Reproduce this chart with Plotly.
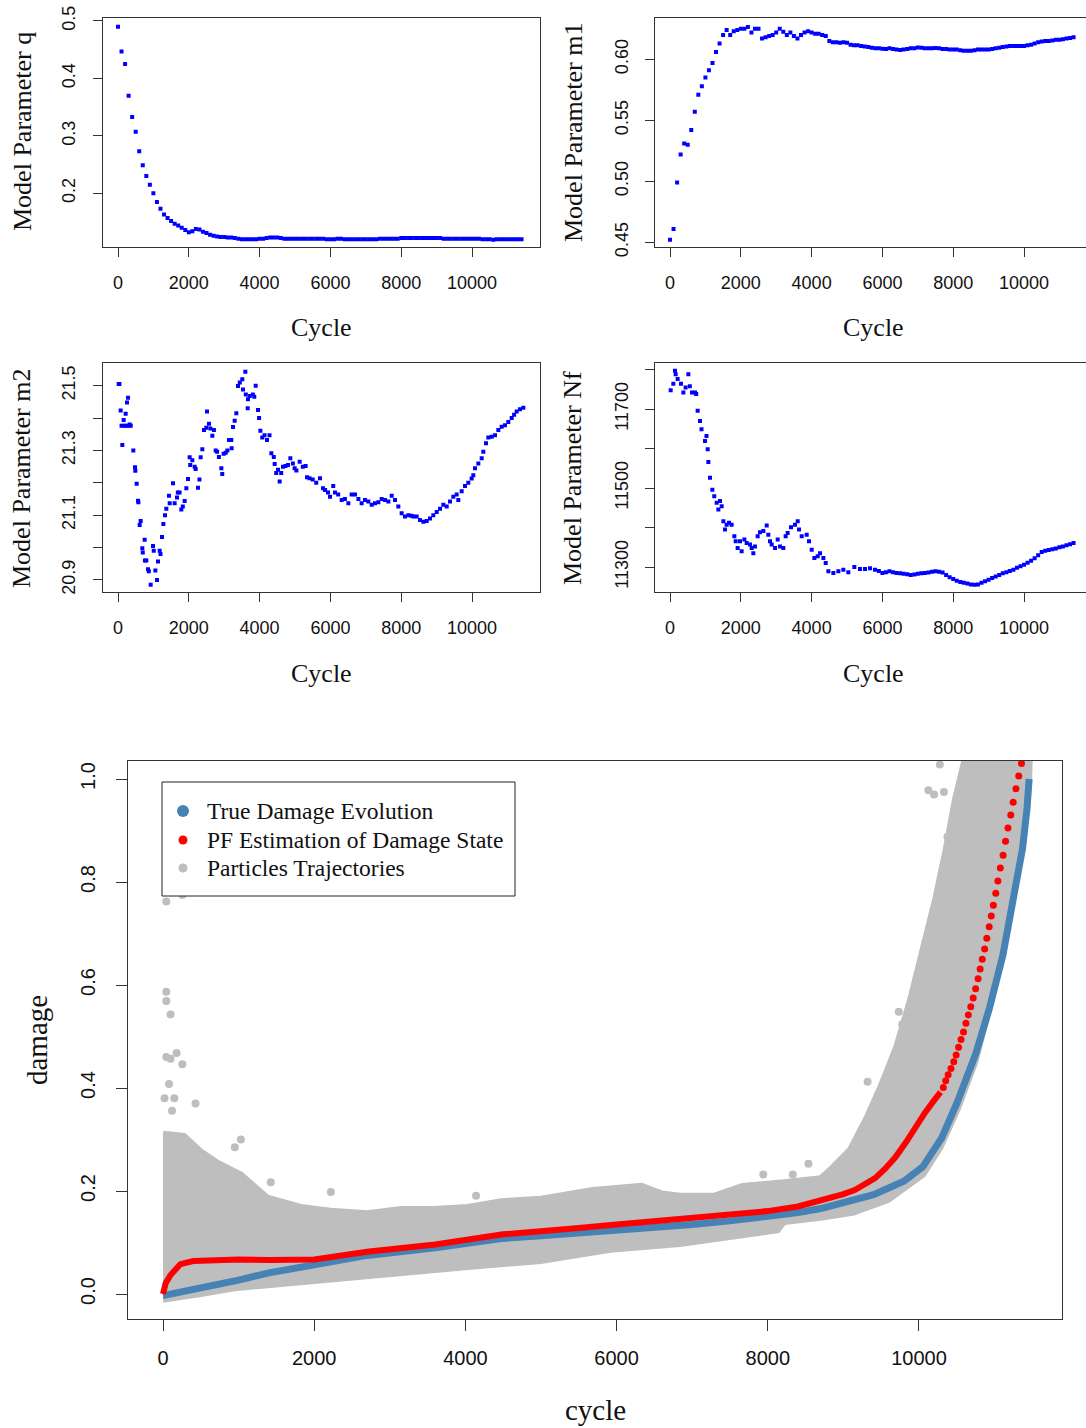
import plotly.graph_objects as go

# ---------------- data ----------------
grid_cycle = [0, 100, 200, 300, 400, 500, 600, 700, 800, 900, 1000, 1100, 1200, 1300, 1400, 1500,
              1600, 1700, 1800, 1900, 2000, 2100, 2200, 2300, 2400, 2500, 2600, 2700, 2800, 2900,
              3000, 3100, 3200, 3300, 3400, 3500, 3600, 3700, 3800, 3900, 4000, 4100, 4200, 4300,
              4400, 4500, 4600, 4700, 4800, 4900, 5000, 5100, 5200, 5300, 5400, 5500, 5600, 5700,
              5800, 5900, 6000, 6100, 6200, 6300, 6400, 6500, 6600, 6700, 6800, 6900, 7000, 7100,
              7200, 7300, 7400, 7500, 7600, 7700, 7800, 7900, 8000, 8100, 8200, 8300, 8400, 8500,
              8600, 8700, 8800, 8900, 9000, 9100, 9200, 9300, 9400, 9500, 9600, 9700, 9800, 9900,
              10000, 10100, 10200, 10300, 10400, 10500, 10600, 10700, 10800, 10900, 11000, 11100,
              11200, 11300, 11400]

q_values = [0.490, 0.447, 0.425, 0.370, 0.333, 0.307, 0.273, 0.249, 0.230, 0.215, 0.200, 0.185,
            0.173, 0.163, 0.157, 0.152, 0.147, 0.144, 0.140, 0.136, 0.132, 0.134, 0.138, 0.137,
            0.133, 0.131, 0.128, 0.126, 0.125, 0.124, 0.124, 0.123, 0.123, 0.122, 0.121, 0.120,
            0.120, 0.120, 0.120, 0.120, 0.121, 0.121, 0.122, 0.123, 0.123, 0.123, 0.122, 0.121,
            0.121, 0.121, 0.121, 0.121, 0.121, 0.121, 0.121, 0.121, 0.121, 0.121, 0.121, 0.120,
            0.120, 0.120, 0.121, 0.121, 0.120, 0.120, 0.120, 0.120, 0.120, 0.120, 0.120, 0.120,
            0.120, 0.120, 0.121, 0.121, 0.121, 0.121, 0.121, 0.121, 0.122, 0.122, 0.122, 0.122,
            0.122, 0.122, 0.122, 0.122, 0.122, 0.122, 0.122, 0.122, 0.121, 0.121, 0.121, 0.121,
            0.121, 0.121, 0.121, 0.121, 0.121, 0.121, 0.121, 0.120, 0.120, 0.120, 0.119, 0.120,
            0.120, 0.120, 0.120, 0.120, 0.120, 0.120, 0.120]

m1_values = [0.452, 0.461, 0.499, 0.522, 0.531, 0.530, 0.542, 0.557, 0.571, 0.578, 0.585, 0.591,
             0.597, 0.606, 0.613, 0.620, 0.624, 0.620, 0.623, 0.624, 0.625, 0.625, 0.6265, 0.622,
             0.625, 0.625, 0.617, 0.618, 0.619, 0.620, 0.622, 0.625, 0.6225, 0.620, 0.622, 0.619,
             0.617, 0.620, 0.622, 0.623, 0.622, 0.621, 0.621, 0.620, 0.619, 0.615, 0.614, 0.614,
             0.6135, 0.614, 0.6135, 0.612, 0.6115, 0.6115, 0.611, 0.6105, 0.610, 0.6095, 0.609,
             0.609, 0.6087, 0.6085, 0.609, 0.6085, 0.608, 0.6077, 0.608, 0.6085, 0.609, 0.609,
             0.6096, 0.6095, 0.609, 0.609, 0.609, 0.6092, 0.609, 0.6085, 0.6085, 0.608, 0.608,
             0.608, 0.6075, 0.607, 0.607, 0.607, 0.6075, 0.608, 0.608, 0.608, 0.608, 0.6085,
             0.609, 0.6095, 0.610, 0.6105, 0.611, 0.611, 0.611, 0.611, 0.611, 0.6115, 0.612,
             0.613, 0.614, 0.6145, 0.615, 0.615, 0.6155, 0.616, 0.616, 0.6165, 0.617, 0.6175,
             0.618]

m2_cycle = [19, 40, 75, 100, 122, 160, 170, 216, 230, 254, 282, 300, 330, 360, 433, 480, 490, 527,
            565, 575, 612, 640, 687, 700, 753, 760, 800, 847, 870, 923, 989, 1010, 1055, 1102,
            1130, 1177, 1200, 1243, 1281, 1328, 1365, 1440, 1460, 1554, 1600, 1667, 1690, 1740,
            1789, 1830, 1883, 1930, 1977, 2024, 2040, 2100, 2166, 2194, 2260, 2300, 2335, 2382,
            2429, 2495, 2514, 2570, 2610, 2665, 2710, 2759, 2800, 2850, 2919, 2945, 2985, 3042,
            3090, 3136, 3200, 3210, 3249, 3296, 3343, 3390, 3440, 3511, 3530, 3597, 3610, 3663,
            3672, 3720, 3810, 3850, 3889, 3955, 3985, 4021, 4075, 4140, 4209, 4280, 4332, 4400,
            4426, 4470, 4520, 4567, 4610, 4660, 4730, 4802, 4868, 4940, 4990, 5040, 5132, 5220,
            5300, 5339, 5410, 5500, 5600, 5706, 5791, 5850, 5932, 5989, 6080, 6130, 6220, 6319,
            6410, 6507, 6601, 6695, 6790, 6883, 6977, 7071, 7166, 7260, 7354, 7448, 7542, 7637,
            7731, 7825, 7919, 8013, 8107, 8202, 8290, 8343, 8437, 8531, 8625, 8720, 8814, 8908,
            9003, 9097, 9190, 9285, 9379, 9472, 9567, 9614, 9709, 9803, 9896, 9990, 10037,
            10085, 10179, 10274, 10320, 10395, 10461, 10556, 10650, 10744, 10838, 10932, 11026,
            11121, 11190, 11262, 11356, 11450]
m2_values = [21.505, 21.505, 21.423, 21.376, 21.317, 21.394, 21.376, 21.413, 21.376, 21.448,
             21.463, 21.376, 21.380, 21.376, 21.300, 21.248, 21.237, 21.197, 21.145, 21.140,
             21.070, 21.082, 20.998, 20.985, 21.024, 20.960, 20.960, 20.933, 20.927, 20.885,
             21.005, 20.990, 20.929, 20.900, 20.957, 20.990, 20.980, 21.033, 21.073, 21.100,
             21.120, 21.160, 21.137, 21.199, 21.137, 21.155, 21.170, 21.170, 21.118, 21.127,
             21.144, 21.183, 21.212, 21.279, 21.255, 21.270, 21.250, 21.243, 21.185, 21.210,
             21.279, 21.304, 21.363, 21.370, 21.420, 21.382, 21.368, 21.345, 21.363, 21.300,
             21.296, 21.280, 21.245, 21.227, 21.290, 21.293, 21.300, 21.332, 21.332, 21.307,
             21.372, 21.392, 21.415, 21.499, 21.510, 21.520, 21.488, 21.543, 21.473, 21.430,
             21.458, 21.468, 21.473, 21.466, 21.500, 21.425, 21.400, 21.361, 21.340, 21.347,
             21.332, 21.347, 21.291, 21.280, 21.258, 21.230, 21.240, 21.204, 21.230, 21.250,
             21.252, 21.255, 21.276, 21.260, 21.245, 21.238, 21.265, 21.250, 21.252, 21.217,
             21.214, 21.210, 21.200, 21.214, 21.183, 21.178, 21.170, 21.157, 21.190, 21.170,
             21.164, 21.147, 21.150, 21.137, 21.164, 21.164, 21.150, 21.137, 21.147, 21.142,
             21.132, 21.137, 21.140, 21.150, 21.147, 21.142, 21.160, 21.147, 21.127, 21.106,
             21.096, 21.100, 21.098, 21.096, 21.096, 21.085, 21.080, 21.082, 21.090, 21.100,
             21.110, 21.120, 21.132, 21.127, 21.142, 21.157, 21.164, 21.147, 21.174, 21.190,
             21.200, 21.213, 21.223, 21.245, 21.260, 21.276, 21.296, 21.322, 21.340, 21.342,
             21.347, 21.363, 21.373, 21.378, 21.388, 21.400, 21.410, 21.420, 21.427, 21.432]

nf_cycle = [19, 94, 141, 160, 216, 310, 377, 440, 518, 560, 620, 706, 740, 781, 847, 890, 989,
            1030, 1064, 1083, 1130, 1196, 1250, 1318, 1365, 1412, 1460, 1507, 1554, 1600, 1667,
            1740, 1817, 1855, 1911, 1977, 2024, 2100, 2166, 2260, 2307, 2354, 2400, 2476, 2542,
            2637, 2731, 2778, 2825, 2872, 2966, 3042, 3108, 3201, 3267, 3324, 3418, 3530, 3607,
            3645, 3720, 3861, 3927, 4003, 4078, 4172, 4238, 4332, 4398, 4473, 4614, 4755, 4896,
            5037, 5207, 5367, 5508, 5650, 5791, 5900, 6000, 6100, 6200, 6300, 6400, 6500, 6600,
            6700, 6800, 6900, 7000, 7100, 7200, 7300, 7400, 7500, 7600, 7700, 7800, 7900, 8000,
            8100, 8200, 8300, 8400, 8500, 8600, 8700, 8800, 8900, 9000, 9100, 9200, 9300, 9400,
            9500, 9600, 9700, 9800, 9900, 10000, 10100, 10200, 10300, 10400, 10500, 10600, 10700,
            10800, 10900, 11000, 11100, 11200, 11300, 11400]
nf_values = [11748, 11764, 11797, 11788, 11776, 11764, 11742, 11755, 11788, 11758, 11742, 11742,
             11738, 11696, 11670, 11649, 11619, 11632, 11598, 11566, 11526, 11496, 11479, 11463,
             11446, 11467, 11454, 11416, 11395, 11407, 11412, 11407, 11378, 11365, 11348, 11365,
             11340, 11370, 11361, 11357, 11348, 11335, 11352, 11378, 11388, 11391, 11405, 11382,
             11365, 11357, 11348, 11370, 11352, 11348, 11378, 11386, 11401, 11407, 11416, 11395,
             11378, 11382, 11365, 11344, 11323, 11327, 11335, 11323, 11310, 11289, 11285, 11289,
             11293, 11287, 11300, 11295, 11295, 11297, 11293, 11290, 11285, 11287, 11289, 11287,
             11285, 11284, 11283, 11282, 11280, 11281, 11283, 11284, 11285, 11286, 11288, 11289,
             11288, 11286, 11280, 11274, 11270, 11265, 11262, 11260, 11258, 11256, 11255, 11256,
             11260, 11264, 11268, 11272, 11276, 11280, 11284, 11287, 11290, 11293, 11298, 11302,
             11306, 11311, 11316, 11322, 11330, 11338, 11341, 11343, 11345, 11347, 11350, 11352,
             11355, 11358, 11361]

# bottom panel
true_cycle = [0, 250, 500, 750, 1000, 1400, 2000, 2700, 3600, 4000, 4500, 5000, 5500, 6000, 6500,
              7000, 7500, 8000, 8400, 8700, 9000, 9400, 9800, 10050, 10300, 10500, 10750, 10930,
              11110, 11250, 11370, 11430, 11457]
true_damage = [-0.003, 0.004, 0.011, 0.019, 0.027, 0.041, 0.056, 0.075, 0.090, 0.097, 0.108,
               0.113, 0.118, 0.124, 0.130, 0.135, 0.142, 0.150, 0.158, 0.166, 0.178, 0.193,
               0.219, 0.247, 0.303, 0.370, 0.466, 0.554, 0.658, 0.764, 0.865, 0.944, 1.000]

pf_cycle = [0, 35, 100, 230, 400, 700, 1000, 1400, 2000, 2700, 3600, 4500, 5000, 5500, 6000,
            6500, 7000, 7500, 8000, 8400, 8700, 9000, 9150, 9300, 9420, 9550, 9690, 9830, 9960,
            10080, 10190, 10285]
pf_damage = [0.000, 0.021, 0.037, 0.058, 0.064, 0.066, 0.067, 0.066, 0.067, 0.082, 0.096,
             0.116, 0.121, 0.128, 0.135, 0.141, 0.148, 0.154, 0.161, 0.170, 0.181, 0.194,
             0.202, 0.213, 0.225, 0.243, 0.266, 0.295, 0.326, 0.352, 0.374, 0.392]
pf_dot_cycle = [10322, 10354, 10386, 10423, 10460, 10492, 10524, 10556, 10589, 10621, 10653,
                10685, 10717, 10749, 10782, 10809, 10837, 10869, 10897, 10929, 10956, 10984,
                11016, 11044, 11076, 11113, 11145, 11177, 11214, 11246, 11283, 11320, 11356]
pf_dot_damage = [0.401, 0.414, 0.426, 0.438, 0.451, 0.464, 0.479, 0.494, 0.509, 0.526, 0.542,
                 0.558, 0.575, 0.593, 0.612, 0.631, 0.650, 0.670, 0.691, 0.713, 0.734, 0.755,
                 0.778, 0.802, 0.827, 0.852, 0.879, 0.905, 0.930, 0.955, 0.981, 1.006, 1.030]

cloud_upper_cycle = [0, 278, 500, 720, 1030, 1382, 1823, 2265, 2706, 3148, 3589, 4031, 4473, 5000,
                     5687, 6331, 6600, 6837, 7297, 7664, 8216, 8700, 8850, 9087, 9300, 9484, 9700,
                     9881, 10050, 10212, 10350, 10476, 10608, 11470]
cloud_upper_damage = [0.311, 0.307, 0.277, 0.255, 0.232, 0.187, 0.169, 0.161, 0.157, 0.165, 0.165,
                      0.169, 0.180, 0.185, 0.202, 0.210, 0.195, 0.191, 0.191, 0.210, 0.217, 0.225,
                      0.245, 0.280, 0.340, 0.400, 0.480, 0.570, 0.670, 0.765, 0.860, 0.960, 1.040,
                      1.060]
cloud_lower_cycle = [11470, 11457, 11412, 11343, 11159, 10975, 10745, 10515, 10285, 10055, 9595,
                     9136, 8700, 8216, 8130, 7572, 6837, 5917, 4998, 4000, 3148, 2000, 940, 500, 0]
cloud_lower_damage = [1.060, 1.000, 0.950, 0.870, 0.720, 0.580, 0.450, 0.360, 0.285, 0.232, 0.183,
                      0.158, 0.148, 0.140, 0.124, 0.112, 0.097, 0.086, 0.064, 0.052, 0.041, 0.026,
                      0.011, 0.000, -0.011]
outlier_cycle = [44, 256, 44, 44, 100, 44, 100, 180, 256, 80, 20, 150, 120, 430, 1030, 950, 1426,
                 2220, 4141, 10276, 10125, 10607, 10308, 10377, 10239, 10147, 9733, 9779, 9756,
                 9320, 9458, 8538, 8331, 7940, 11310, 10200, 10330]
outlier_damage = [0.762, 0.775, 0.587, 0.569, 0.543, 0.460, 0.457, 0.468, 0.446, 0.408, 0.380,
                  0.380, 0.356, 0.370, 0.300, 0.285, 0.217, 0.198, 0.191, 1.028, 0.978, 0.990,
                  0.820, 0.888, 0.727, 0.674, 0.548, 0.524, 0.483, 0.412, 0.386, 0.253, 0.232,
                  0.232, 1.020, 0.970, 0.975]

x_ticks = [0, 2000, 4000, 6000, 8000, 10000]
legend_names = ["True Damage Evolution", "PF Estimation of Damage State", "Particles Trajectories"]

# ---------------- figure ----------------
W, H = 1086, 1428
BLUE = "#0000FF"
STEEL = "#4682B4"
RED = "#FF0000"
GRAY = "#BEBEBE"
AXC = "#333333"
SERIF = "Liberation Serif, Times New Roman, serif"
SANS = "Liberation Sans, Arial, sans-serif"


def xd(a, b):
    return [a / W, min(b / W, 1.0)]


def yd(top, bottom):
    return [1 - bottom / H, 1 - top / H]


fig = go.Figure()

# top panels
panels = [
    (grid_cycle, q_values, "x", "y"),
    (grid_cycle, m1_values, "x2", "y2"),
    (m2_cycle, m2_values, "x3", "y3"),
    (nf_cycle, nf_values, "x4", "y4"),
]
for cx, cy, xa, ya in panels:
    fig.add_trace(go.Scatter(x=cx, y=cy, mode="markers", xaxis=xa, yaxis=ya, showlegend=False,
                             marker=dict(symbol="square", size=4, color=BLUE, line=dict(width=0))))

# bottom panel: particle cloud
fig.add_trace(go.Scatter(x=cloud_upper_cycle + cloud_lower_cycle,
                         y=cloud_upper_damage + cloud_lower_damage,
                         mode="lines", fill="toself", fillcolor=GRAY,
                         line=dict(color=GRAY, width=6), xaxis="x5", yaxis="y5",
                         name=legend_names[2], showlegend=False, hoverinfo="skip"))
fig.add_trace(go.Scatter(x=outlier_cycle, y=outlier_damage, mode="markers", xaxis="x5", yaxis="y5",
                         marker=dict(size=8, color=GRAY), showlegend=False))
fig.add_trace(go.Scatter(x=true_cycle, y=true_damage, mode="lines", xaxis="x5", yaxis="y5",
                         name=legend_names[0], line=dict(color=STEEL, width=7), showlegend=False))
fig.add_trace(go.Scatter(x=pf_cycle, y=pf_damage, mode="lines", xaxis="x5", yaxis="y5",
                         name=legend_names[1], line=dict(color=RED, width=6), showlegend=False))
fig.add_trace(go.Scatter(x=pf_dot_cycle, y=pf_dot_damage, mode="markers", xaxis="x5", yaxis="y5",
                         marker=dict(size=7, color=RED), showlegend=False))

tickfont_small = dict(family=SANS, size=18, color="#111")
tickfont_big = dict(family=SANS, size=20, color="#111")


def xaxis(domain, rng, anchor, font, tl, standoff):
    return dict(domain=domain, range=rng, anchor=anchor, tickvals=x_ticks,
                ticktext=[str(v) for v in x_ticks], ticks="outside", ticklen=tl, tickwidth=1,
                tickcolor=AXC, showline=True, linecolor=AXC, linewidth=1, mirror=True,
                showgrid=False, zeroline=False, tickfont=font, ticklabelstandoff=standoff,
                automargin=False)


def yaxis(domain, rng, anchor, vals, texts, font, tl, standoff):
    return dict(domain=domain, range=rng, anchor=anchor, tickvals=vals, ticktext=texts,
                ticks="outside", ticklen=tl, tickwidth=1, tickcolor=AXC, showline=True,
                linecolor=AXC, linewidth=1, mirror=True, showgrid=False, zeroline=False,
                tickfont=font, tickangle=-90, ticklabelstandoff=standoff, automargin=False)


L_X = xd(102.5, 540)
R_X = xd(655, 1086)
T_Y = yd(17.7, 247.3)
M_Y = yd(363.3, 592.3)

fig.update_layout(
    width=W, height=H, margin=dict(l=0, r=0, t=0, b=0),
    paper_bgcolor="white", plot_bgcolor="white", showlegend=False,
    xaxis=xaxis(L_X, [-438, 11921], "y", tickfont_small, 9, 10),
    yaxis=yaxis(T_Y, [0.106, 0.5057], "x", [0.2, 0.3, 0.4, 0.5], ["0.2", "0.3", "0.4", "0.5"],
                tickfont_small, 9, 10),
    xaxis2=xaxis(R_X, [-424, 11751], "y2", tickfont_small, 9, 10),
    yaxis2=yaxis(T_Y, [0.4459, 0.6341], "x2", [0.45, 0.50, 0.55, 0.60],
                 ["0.45", "0.50", "0.55", "0.60"], tickfont_small, 9, 10),
    xaxis3=xaxis(L_X, [-438, 11921], "y3", tickfont_small, 9, 10),
    yaxis3=yaxis(M_Y, [20.862, 21.569], "x3", [20.9, 21.0, 21.1, 21.2, 21.3, 21.4, 21.5],
                 ["20.9", "", "21.1", "", "21.3", "", "21.5"], tickfont_small, 9, 10),
    xaxis4=xaxis(R_X, [-424, 11751], "y4", tickfont_small, 9, 10),
    yaxis4=yaxis(M_Y, [11236, 11816], "x4", [11300, 11400, 11500, 11600, 11700, 11800],
                 ["11300", "", "11500", "", "11700", ""], tickfont_small, 9, 10),
    xaxis5=xaxis(xd(128, 1062), [-463, 11892], "y5", tickfont_big, 11, 10),
    yaxis5=yaxis(yd(761, 1319), [-0.0485, 1.035], "x5", [0, 0.2, 0.4, 0.6, 0.8, 1.0],
                 ["0.0", "0.2", "0.4", "0.6", "0.8", "1.0"], tickfont_big, 11, 13),
)

# hand-drawn legend box (matches the R legend layout)
fig.add_shape(type="rect", xref="paper", yref="paper", x0=162 / W, x1=515 / W,
              y0=1 - 896 / H, y1=1 - 782 / H, line=dict(color="#222", width=1),
              fillcolor="white", layer="above")
legend_rows = [(legend_names[0], STEEL, 12, 811), (legend_names[1], RED, 9, 840),
               (legend_names[2], GRAY, 9, 868)]
for name, col, dia, py in legend_rows:
    cx = 183
    fig.add_shape(type="circle", xref="paper", yref="paper",
                  x0=(cx - dia / 2) / W, x1=(cx + dia / 2) / W,
                  y0=1 - (py + dia / 2) / H, y1=1 - (py - dia / 2) / H,
                  fillcolor=col, line=dict(width=0), layer="above")
    fig.add_annotation(text=name, x=205 / W, y=1 - py / H, xref="paper", yref="paper",
                       xanchor="left", yanchor="middle", showarrow=False,
                       font=dict(family=SERIF, size=23.5, color="#111"))

# axis titles
titles = [
    ("Model Parameter q", 22, 132, 26, -90),
    ("Model Parameter m1", 573, 132, 26, -90),
    ("Model Parameter m2", 22, 478, 26, -90),
    ("Model Parameter Nf", 573, 478, 26, -90),
    ("Cycle", 321, 328, 26, 0),
    ("Cycle", 873, 328, 26, 0),
    ("Cycle", 321, 673, 26, 0),
    ("Cycle", 873, 673, 26, 0),
    ("damage", 37, 1040, 29, -90),
    ("cycle", 595, 1410, 29, 0),
]
for text, px, py, size, ang in titles:
    fig.add_annotation(text=text, x=px / W, y=1 - py / H, xref="paper", yref="paper",
                       xanchor="center", yanchor="middle", showarrow=False, textangle=ang,
                       font=dict(family=SERIF, size=size, color="#111"))

fig.write_html("out.html")
